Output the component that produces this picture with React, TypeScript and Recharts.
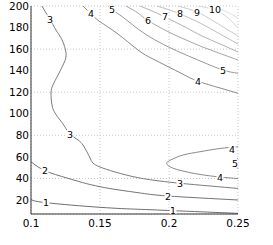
import React from "react";
import { ComposedChart, Line, Scatter, XAxis, YAxis, CartesianGrid } from "recharts";

type P = { x: number; y: number };

const X_TICKS = [0.1, 0.15, 0.2, 0.25];
const Y_TICKS = [20, 40, 60, 80, 100, 120, 140, 160, 180, 200];

const contour1: P[] = [
  { x: 0.1, y: 20.6 }, { x: 0.1109, y: 17.5 }, { x: 0.15, y: 13.2 }, { x: 0.1775, y: 11.4 },
  { x: 0.2029, y: 10.1 }, { x: 0.25, y: 7.6 },
];
const contour2: P[] = [
  { x: 0.1, y: 55.5 }, { x: 0.1101, y: 47.2 }, { x: 0.1268, y: 40.1 }, { x: 0.15, y: 32.3 },
  { x: 0.1775, y: 26.8 }, { x: 0.1993, y: 23.7 }, { x: 0.25, y: 20.0 },
];
const contour3: P[] = [
  { x: 0.108, y: 200 }, { x: 0.1109, y: 193.5 }, { x: 0.1138, y: 187.7 }, { x: 0.1181, y: 177.7 },
  { x: 0.1225, y: 168.5 }, { x: 0.1254, y: 156.4 }, { x: 0.1239, y: 147.1 }, { x: 0.1196, y: 136.0 },
  { x: 0.1159, y: 126.7 }, { x: 0.1145, y: 119.3 }, { x: 0.1152, y: 108.2 }, { x: 0.1174, y: 100.7 },
  { x: 0.121, y: 94.3 }, { x: 0.1246, y: 87.8 }, { x: 0.1283, y: 81.2 }, { x: 0.1341, y: 75.7 },
  { x: 0.1377, y: 71.0 }, { x: 0.1406, y: 64.5 }, { x: 0.1428, y: 58.9 }, { x: 0.1449, y: 54.3 },
  { x: 0.15, y: 50.6 }, { x: 0.1609, y: 46.0 }, { x: 0.1775, y: 40.7 }, { x: 0.1935, y: 37.6 },
  { x: 0.208, y: 35.5 }, { x: 0.2297, y: 33.0 }, { x: 0.25, y: 30.7 },
];
const contour4Low: P[] = [
  { x: 0.25, y: 69.4 }, { x: 0.237, y: 67.8 }, { x: 0.2225, y: 64.8 }, { x: 0.2116, y: 62.2 },
  { x: 0.2043, y: 59.0 }, { x: 0.1993, y: 55.7 }, { x: 0.1983, y: 54.0 }, { x: 0.1993, y: 52.0 },
  { x: 0.2036, y: 49.2 }, { x: 0.2116, y: 46.4 }, { x: 0.2225, y: 43.7 }, { x: 0.237, y: 41.3 },
  { x: 0.25, y: 39.9 },
];
const contour5Low: P[] = [
  { x: 0.25, y: 59.0 }, { x: 0.2485, y: 54.0 }, { x: 0.25, y: 49.0 },
];
const contour4High: P[] = [
  { x: 0.1377, y: 200 }, { x: 0.1435, y: 192.6 }, { x: 0.15, y: 185.4 }, { x: 0.1623, y: 174.7 },
  { x: 0.1775, y: 159.2 }, { x: 0.1877, y: 151.3 }, { x: 0.1993, y: 143.7 }, { x: 0.2101, y: 136.7 },
  { x: 0.221, y: 130.2 }, { x: 0.237, y: 123.9 }, { x: 0.25, y: 119.0 },
];
const contour5High: P[] = [
  { x: 0.1558, y: 200 }, { x: 0.1587, y: 196.3 }, { x: 0.1645, y: 191.6 }, { x: 0.1754, y: 180.8 },
  { x: 0.1862, y: 171.2 }, { x: 0.1993, y: 162.2 }, { x: 0.2116, y: 155.0 }, { x: 0.2239, y: 148.3 },
  { x: 0.2391, y: 140.6 }, { x: 0.25, y: 137.6 },
];
const contour6: P[] = [
  { x: 0.1688, y: 200 }, { x: 0.1775, y: 193.5 }, { x: 0.1848, y: 186.5 }, { x: 0.1993, y: 176.2 },
  { x: 0.2116, y: 168.9 }, { x: 0.2239, y: 162.2 }, { x: 0.237, y: 155.9 }, { x: 0.25, y: 149.9 },
];
const contour7: P[] = [
  { x: 0.179, y: 200 }, { x: 0.1877, y: 195.4 }, { x: 0.1971, y: 189.8 }, { x: 0.2116, y: 180.5 },
  { x: 0.2239, y: 172.2 }, { x: 0.237, y: 164.8 }, { x: 0.25, y: 157.3 },
];
const contour8: P[] = [
  { x: 0.1913, y: 200 }, { x: 0.1993, y: 196.8 }, { x: 0.208, y: 192.6 }, { x: 0.2225, y: 184.2 },
  { x: 0.237, y: 174.0 }, { x: 0.25, y: 164.8 },
];
const contour9: P[] = [
  { x: 0.2065, y: 200 }, { x: 0.2203, y: 194.4 }, { x: 0.2333, y: 185.2 }, { x: 0.25, y: 172.2 },
];
const contour10: P[] = [
  { x: 0.221, y: 200 }, { x: 0.2333, y: 196.3 }, { x: 0.2428, y: 188.9 }, { x: 0.25, y: 179.6 },
];
const contour11: P[] = [
  { x: 0.2312, y: 200 }, { x: 0.2406, y: 195.4 }, { x: 0.25, y: 188.9 },
];

const labels = [
  { x: 0.1109, y: 17.5, t: "1" }, { x: 0.2029, y: 10.1, t: "1" },
  { x: 0.1101, y: 47.2, t: "2" }, { x: 0.1993, y: 23.7, t: "2" },
  { x: 0.1138, y: 187.7, t: "3" }, { x: 0.1283, y: 81.2, t: "3" }, { x: 0.208, y: 35.5, t: "3" },
  { x: 0.2457, y: 67.2, t: "4" }, { x: 0.237, y: 41.3, t: "4" }, { x: 0.2478, y: 54.0, t: "5" },
  { x: 0.1435, y: 192.6, t: "4" }, { x: 0.221, y: 130.2, t: "4" },
  { x: 0.1587, y: 196.3, t: "5" }, { x: 0.2391, y: 140.6, t: "5" },
  { x: 0.1848, y: 186.5, t: "6" }, { x: 0.1971, y: 189.8, t: "7" },
  { x: 0.208, y: 192.6, t: "8" }, { x: 0.2203, y: 194.4, t: "9" }, { x: 0.2333, y: 196.3, t: "10" },
];

const series: { d: P[]; c: string }[] = [
  { d: contour1, c: "#6e6e6e" },
  { d: contour2, c: "#747474" },
  { d: contour3, c: "#7c7c7c" },
  { d: contour4Low, c: "#8a8a8a" },
  { d: contour5Low, c: "#989898" },
  { d: contour4High, c: "#8a8a8a" },
  { d: contour5High, c: "#989898" },
  { d: contour6, c: "#a6a6a6" },
  { d: contour7, c: "#b2b2b2" },
  { d: contour8, c: "#bebebe" },
  { d: contour9, c: "#cacaca" },
  { d: contour10, c: "#d6d6d6" },
  { d: contour11, c: "#e2e2e2" },
];

const FONT = "'DejaVu Sans', sans-serif";

const renderLabel = (props: any) => {
  const { cx, cy, payload } = props;
  if (cx == null || cy == null) return <g />;
  const w = payload.t.length * 6 + 1;
  return (
    <g>
      <rect x={cx - w / 2} y={cy - 4} width={w} height={8} fill="#ffffff" />
      <text
        x={cx}
        y={cy}
        textAnchor="middle"
        dominantBaseline="central"
        fontSize={9.5}
        fontFamily={FONT}
        fill="#000"
      >
        {payload.t}
      </text>
    </g>
  );
};

export default function App() {
  return (
    <div style={{ position: "absolute", left: 0, top: 0, background: "#fff" }}>
      <ComposedChart width={273} height={245} margin={{ top: 6, right: 35, bottom: 0, left: 0 }}>
        <CartesianGrid stroke="#c8c8c8" strokeDasharray="1 2" />
        <XAxis
          dataKey="x"
          type="number"
          domain={[0.1, 0.25]}
          ticks={X_TICKS}
          allowDataOverflow
          height={31}
          tickLine={false}
          tickSize={2}
          tickMargin={4}
          stroke="#333"
          tick={{ fill: "#000", fontSize: 10.5, fontFamily: FONT }}
          tickFormatter={(v: number) => String(v)}
        />
        <YAxis
          dataKey="y"
          type="number"
          domain={[7, 200]}
          ticks={Y_TICKS}
          allowDataOverflow
          width={31}
          tickLine={false}
          tickSize={2}
          tickMargin={0}
          stroke="#333"
          tick={{ fill: "#000", fontSize: 10.5, fontFamily: FONT }}
        />
        {series.map((s, i) => (
          <Line
            key={i}
            data={s.d}
            dataKey="y"
            type="natural"
            stroke={s.c}
            strokeWidth={1}
            dot={false}
            activeDot={false}
            isAnimationActive={false}
          />
        ))}
        <Scatter data={labels} dataKey="y" shape={renderLabel} isAnimationActive={false} />
      </ComposedChart>
    </div>
  );
}
